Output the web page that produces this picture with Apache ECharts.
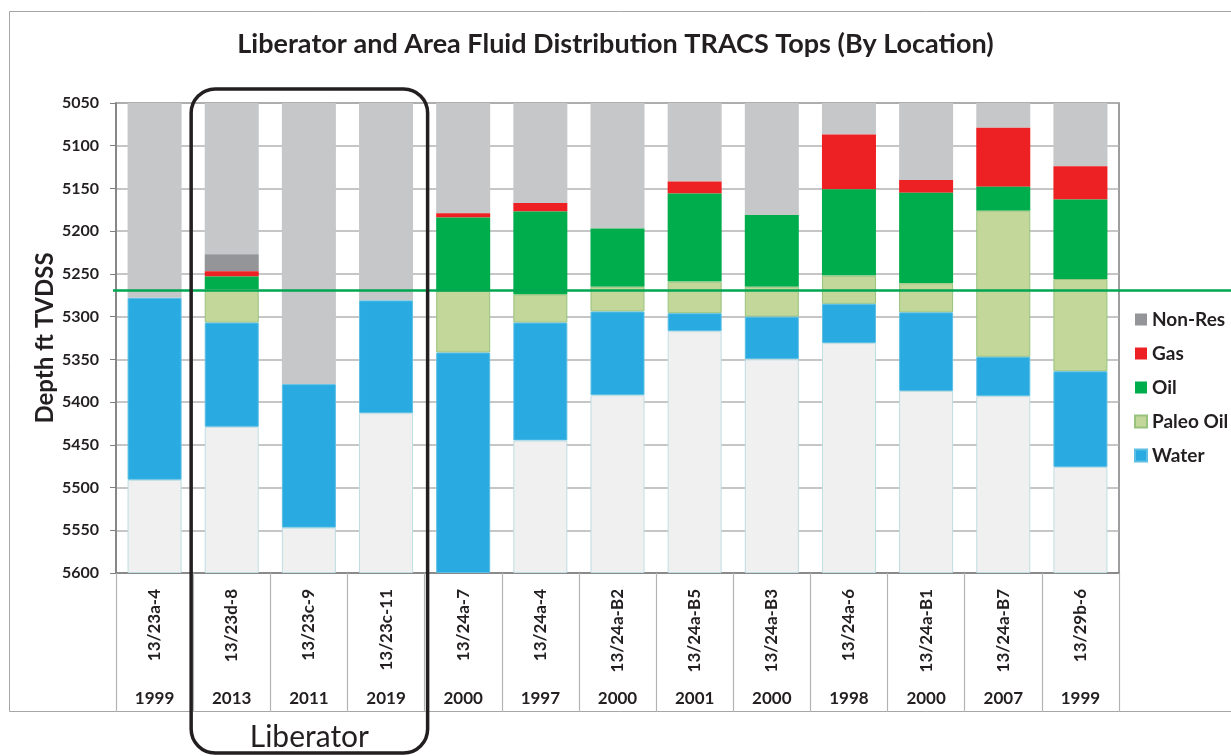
<!DOCTYPE html>
<html>
<head>
<meta charset="utf-8">
<script src="https://cdn.jsdelivr.net/npm/echarts@6/dist/echarts.min.js"></script>
<style>
  html, body { margin: 0; padding: 0; background: #fff; }
  #chartTracs { width: 1231px; height: 756px; }
</style>
</head>
<body>
<div id="chartTracs"></div>
<script>
// wells (by location) and the year each was drilled
var wells = ['13/23a-4', '13/23d-8', '13/23c-9', '13/23c-11', '13/24a-7', '13/24a-4', '13/24a-B2',
             '13/24a-B5', '13/24a-B3', '13/24a-6', '13/24a-B1', '13/24a-B7', '13/29b-6'];
var years = ['1999', '2013', '2011', '2019', '2000', '1997', '2000', '2001', '2000', '1998', '2000', '2007', '1999'];

// interval thickness in ft, stacked down from the top of the depth window
var topDepth = 5050;
var aboveZone = [228, 177, 329, 231, 129, 117, 147, 92, 131, 37, 90, 29, 74];
var nonRes    = [0, 20, 0, 0, 0, 0, 0, 0, 0, 0, 0, 0, 0];
var gas       = [0, 6, 0, 0, 5, 10, 0, 14, 0, 64, 15, 69, 39];
var oil       = [0, 15, 0, 0, 86, 97, 68, 103, 84, 101, 106, 28, 93];
var paleoOil  = [0, 39, 0, 0, 72, 33, 29, 37, 35, 33, 34, 171, 108];
var water     = [213, 122, 168, 132, 258, 138, 98, 21, 50, 46, 92, 46, 112];
var belowZone = [109, 171, 53, 187, 0, 155, 208, 283, 250, 269, 213, 207, 124];

// Liberator contact line (ft TVDSS)
var contactDepth = 5269.5;

var yTicks = [5050, 5600, 50];   // min, max, step

var textCol = '#231f20';
var fontName = 'Lato';

function clean(arr) {
    return arr.map(function (v) { return v === 0 ? '-' : v; });
}

function zone(name, data, color, border) {
    return {
        name: name,
        type: 'bar',
        stack: 'depth',
        barCategoryGap: '30%',
        data: clean(data),
        itemStyle: {
            color: color,
            borderColor: border || color,
            borderWidth: border ? 1 : 0
        },
        emphasis: { disabled: true }
    };
}

var myChartTracs = echarts.init(document.getElementById('chartTracs'));

let tracsOption = {
    animation: false,
    title: {
        text: 'Liberator and Area Fluid Distribution TRACS Tops (By Location)',
        left: 'center',
        top: 26,
        textStyle: { fontFamily: fontName, fontSize: 27, fontWeight: 'bold', color: textCol }
    },
    legend: {
        data: ['Non-Res', 'Gas', 'Oil', 'Paleo Oil', 'Water'],
        orient: 'vertical',
        left: 1129,
        top: 305,
        icon: 'rect',
        itemWidth: 12,
        itemHeight: 12,
        itemGap: 15,
        selectedMode: false,
        textStyle: { fontFamily: fontName, fontSize: 19, fontWeight: 'bold', color: textCol, lineHeight: 19 }
    },
    grid: {
        left: 116,
        right: 112,
        top: 103,
        bottom: 183,
        show: true,
        borderColor: '#7f7f7f',
        borderWidth: 1.5
    },
    xAxis: [
        {
            type: 'category',
            data: wells,
            position: 'bottom',
            axisLine: { show: true, onZero: false, lineStyle: { color: '#7f7f7f', width: 1.5 } },
            axisTick: { show: true, interval: 0, length: 139, lineStyle: { color: '#b3b3b3', width: 1.2 } },
            axisLabel: {
                interval: 0, rotate: 90, margin: 16,
                fontFamily: fontName, fontSize: 17, fontWeight: 'bold', color: textCol
            }
        },
        {
            type: 'category',
            data: years,
            position: 'bottom',
            axisLine: { show: false },
            axisTick: { show: false },
            axisLabel: {
                interval: 0, margin: 117,
                fontFamily: fontName, fontSize: 17, fontWeight: 'bold', color: textCol
            }
        }
    ],
    yAxis: {
        type: 'value',
        inverse: true,
        min: yTicks[0],
        max: yTicks[1],
        interval: yTicks[2],
        name: 'Depth ft TVDSS',
        nameLocation: 'middle',
        nameGap: 59,
        nameMoveOverlap: false,
        nameTextStyle: { fontFamily: fontName, fontSize: 24, fontWeight: 'bold', color: textCol },
        axisLine: { show: true, lineStyle: { color: '#7f7f7f', width: 1.5 } },
        axisTick: { show: true, length: 6, lineStyle: { color: '#7f7f7f' } },
        axisLabel: {
            margin: 17, fontFamily: fontName, fontSize: 16, fontWeight: 'bold', color: textCol,
            formatter: function (v) { return String(v); }
        },
        splitLine: { show: true, lineStyle: { color: '#b3b3b3', width: 1.5 } }
    },
    series: [
        {
            name: 'base',
            type: 'bar',
            stack: 'depth',
            silent: true,
            clip: true,
            data: wells.map(function () { return topDepth; }),
            itemStyle: { color: 'rgba(0,0,0,0)' }
        },
        zone('Above', aboveZone, '#c6c7c9'),
        zone('Non-Res', nonRes, '#939598'),
        zone('Gas', gas, '#ed2024'),
        zone('Oil', oil, '#00ad4c'),
        zone('Paleo Oil', paleoOil, '#c4d79b', '#97c37c'),
        zone('Water', water, '#29abe2', '#5dbfe3'),
        zone('Below', belowZone, '#f0f0f0', '#bfdde2')
    ]
};

myChartTracs.setOption(tracsOption);

// annotations placed through the chart's own scales
var yContact = myChartTracs.convertToPixel({ yAxisIndex: 0 }, contactDepth);
var cx = wells.map(function (w, i) { return myChartTracs.convertToPixel({ xAxisIndex: 0 }, i); });
var half = (cx[1] - cx[0]) / 2;
var boxL = cx[1] - half - 2;
var boxR = cx[3] + half + 3;

myChartTracs.setOption({
    graphic: [
        {
            type: 'rect',
            shape: { x: 9.5, y: 11.5, width: 1240, height: 700 },
            style: { fill: 'none', stroke: '#a6a6a6', lineWidth: 1 },
            z: 0, silent: true
        },
        {
            type: 'line',
            shape: { x1: 113, y1: yContact, x2: 1231, y2: yContact },
            style: { stroke: '#00a651', lineWidth: 2.5 },
            z: 100, silent: true
        },
        {
            type: 'rect',
            shape: { x: boxL, y: 89, width: boxR - boxL, height: 664, r: 24 },
            style: { fill: 'none', stroke: textCol, lineWidth: 3.5 },
            z: 101, silent: true
        },
        {
            type: 'text',
            x: (boxL + boxR) / 2,
            y: 737,
            style: {
                text: 'Liberator',
                fill: textCol,
                font: 'normal 30px Lato',
                textAlign: 'center',
                textVerticalAlign: 'middle'
            },
            z: 101, silent: true
        }
    ]
});
</script>
</body>
</html>
